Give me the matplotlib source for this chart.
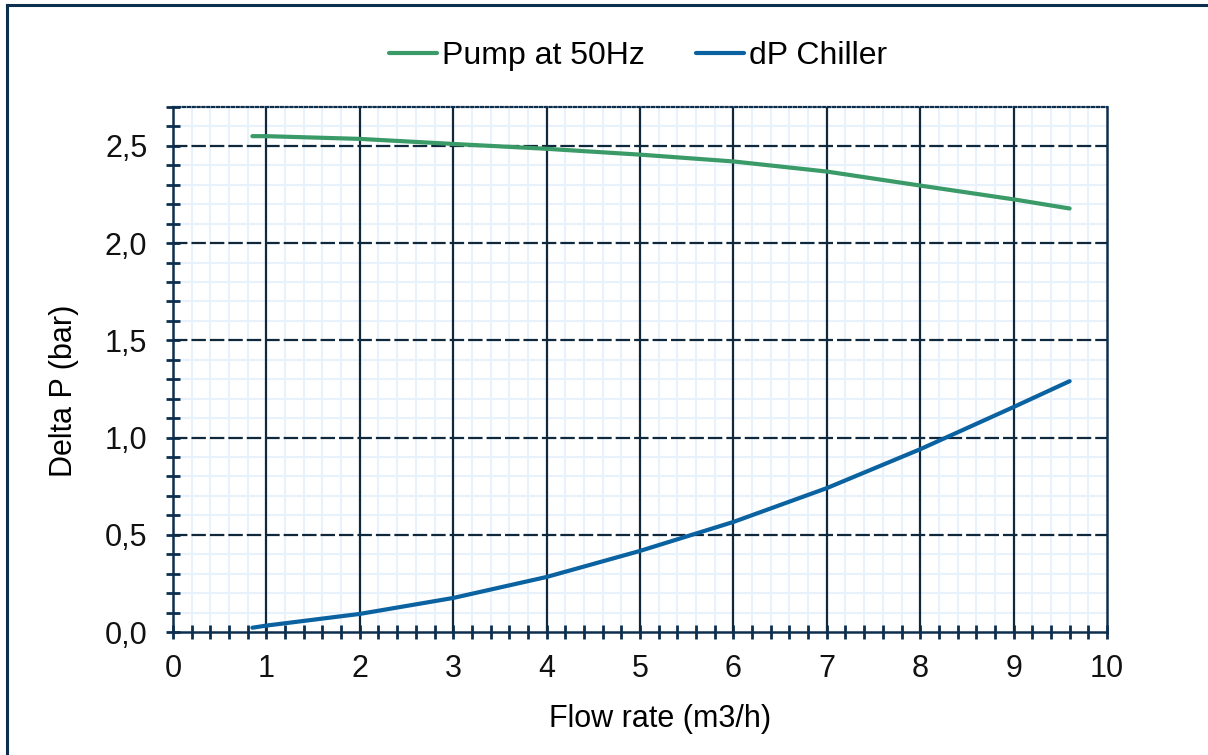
import matplotlib
matplotlib.use("Agg")
import matplotlib.pyplot as plt
from matplotlib.lines import Line2D
from matplotlib.ticker import MultipleLocator, FuncFormatter

plt.rcParams['font.family'] = ['Liberation Sans', 'DejaVu Sans']

flow_pump = [0.85, 1.0, 2.0, 3.0, 4.0, 5.0, 6.0, 7.0, 8.0, 9.0, 9.6]
dp_pump = [2.55, 2.55, 2.536, 2.51, 2.485, 2.455, 2.42, 2.368, 2.296, 2.225, 2.178]

flow_chiller = [0.85, 1.0, 2.0, 3.0, 4.0, 5.0, 6.0, 7.0, 8.0, 9.0, 9.6]
dp_chiller = [0.022, 0.033, 0.093, 0.175, 0.283, 0.417, 0.566, 0.74, 0.94, 1.157, 1.29]

labels = ["Pump at 50Hz", "dP Chiller"]
colors = ["#3a9a68", "#0b62a0"]
navy = "#0d2f4f"
gridc = "#10283c"

fig = plt.figure(figsize=(12.08, 7.55), dpi=100)
ax = fig.add_axes([173/1208, 1 - 632/755, (1107-173)/1208, (632-107)/755])

ax.set_xlim(0, 10)
ax.set_ylim(0, 2.7)

ax.xaxis.set_major_locator(MultipleLocator(1))
ax.xaxis.set_minor_locator(MultipleLocator(0.2))
ax.yaxis.set_major_locator(MultipleLocator(0.5))
ax.yaxis.set_minor_locator(MultipleLocator(0.1))
ax.yaxis.set_major_formatter(FuncFormatter(lambda v, p: f"{v:.1f}".replace('.', ',')))

ax.set_axisbelow(True)
ax.grid(which='minor', color='#e8f2fc', linewidth=1.5)
ax.grid(which='major', visible=False)

for xv in ax.get_xticks():
    if 0 < xv < 10:
        ax.axvline(xv, color=gridc, linewidth=1.6, zorder=1)
for yv in ax.get_yticks():
    if 0 < yv < 2.7:
        ax.axhline(yv, color=gridc, linewidth=1.6, linestyle=(0, (6.5, 1.8)), zorder=1)

for s in ['left', 'bottom', 'right']:
    ax.spines[s].set_color(navy)
    ax.spines[s].set_linewidth(1.8)
ax.spines['top'].set_color(navy)
ax.spines['top'].set_linewidth(1.6)
ax.spines['top'].set_linestyle((0, (1, 1.2)))

ax.tick_params(which='both', direction='inout', color=navy, width=2.0,
               top=False, right=False, labelsize=22, labelcolor='#111111')
ax.tick_params(which='both', length=10)
ax.tick_params(axis='x', which='major', pad=11)
ax.tick_params(axis='y', which='major', pad=13.5)

ax.plot(flow_pump, dp_pump, color=colors[0], linewidth=3.0, solid_capstyle='round', label=labels[0], zorder=3)
ax.plot(flow_chiller, dp_chiller, color=colors[1], linewidth=3.0, solid_capstyle='round', label=labels[1], zorder=3)

ax.set_xlabel("Flow rate (m3/h)", fontsize=22, labelpad=14)
ax.set_ylabel("Delta P (bar)", fontsize=22, labelpad=18.5)
ax.xaxis.label.set_x((660 - 173) / 934)
ax.yaxis.label.set_y((632 - 391) / 525)

leg = fig.legend(loc='center', bbox_to_anchor=(638/1208, 1 - 56/755), ncol=2, frameon=False,
                 fontsize=23, handlelength=1.5, handletextpad=0.15, columnspacing=1.6)

fig.add_artist(Line2D([7/1208, 7/1208], [0, 1 - 5/755], color=navy, linewidth=2.2, transform=fig.transFigure))
fig.add_artist(Line2D([7/1208, 1], [1 - 5/755, 1 - 5/755], color=navy, linewidth=2.2, transform=fig.transFigure))

fig.savefig("out.png", dpi=100)
